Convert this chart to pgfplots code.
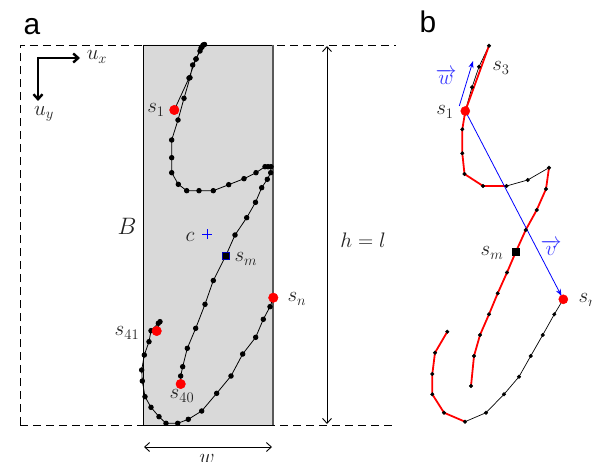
\documentclass[border=0pt]{standalone}
\usepackage{graphicx}
\usepackage{pgfplots}
\pgfplotsset{compat=1.18}
\usepackage{fontspec}
\newfontfamily\panelfont{Liberation Sans}
\usetikzlibrary{arrows.meta}
\definecolor{boxgray}{HTML}{D9D9D9}
\definecolor{vecblue}{HTML}{3A3AFF}
\definecolor{labgray}{HTML}{222222}
\newcommand{\lab}[1]{\scalebox{1.22}{\LARGE #1}}
\begin{document}
\begin{tikzpicture}
\begin{axis}[name=ax, scale only axis, width=592bp, height=462bp,
  xmin=0, xmax=592, ymin=0, ymax=462, y dir=reverse, hide axis, clip=false]
\coordinate (SW) at (axis cs:0,462);
\coordinate (NE) at (axis cs:592,0);
% ---------------- panel a ----------------
\addplot[fill=boxgray, draw=none] coordinates {(143,45) (273,45) (273,425) (143,425) (143,45)};
\addplot[black, line width=0.8pt, dash pattern=on 8bp off 5bp] coordinates {(20,425) (20,45) (396,45)};
\addplot[black, line width=0.8pt, dash pattern=on 8bp off 5bp] coordinates {(20,425) (396,425)};
\addplot[black, line width=0.8pt] coordinates {(143,425) (143,45) (273,45)};
\addplot[black, line width=0.8pt] coordinates {(143,425) (273,425)};
\addplot[black!65, line width=1.6pt] coordinates {(273,45) (273,425)};
% axes arrows
\addplot[black, line width=2.4pt, -{Straight Barb[length=5bp,width=9bp]}] coordinates {(37,58) (80,58)};
\addplot[black, line width=2.4pt, -{Straight Barb[length=5bp,width=9bp]}] coordinates {(38,57) (38,101)};
\node[text=labgray] at (axis cs:97,57) {\lab{$u_x$}};
\node[text=labgray] at (axis cs:44,114) {\lab{$u_y$}};
% h = l and w arrows
\addplot[black, line width=0.9pt, {Straight Barb[length=5bp,width=9bp]}-{Straight Barb[length=5bp,width=9bp]}] coordinates {(327,46) (327,424)};
\node[fill=white, inner sep=1pt, text=labgray] at (axis cs:363,240) {\lab{$h=l$}};
\addplot[black, line width=0.9pt, {Straight Barb[length=5bp,width=9bp]}-{Straight Barb[length=5bp,width=9bp]}] coordinates {(144,447) (272,447)};
\node[anchor=north, text=labgray] at (axis cs:207,451) {\lab{$w$}};
% trajectory
\addplot[black, line width=0.8pt, mark=*, mark size=2.3pt] coordinates {
(174.3,110) (189,78) (196,59) (201,48) (203,45) (204.5,44.5) (202,47) (200,51) (196,59) (192.7,65) (190,77.7) (184,98.3)
(178,120) (171.7,140) (171.7,157.7) (171.7,172.7) (178.3,184.3) (186.7,190.7) (199,190.7) (213.3,190.7)
(228.7,184.7) (244,178.7) (256,172.7) (265,166.7) (268,166.7) (271,166.7) (270.7,172.7) (267.3,179.3)
(261.7,187.7) (255.5,202.3) (246.7,217.7) (235,235) (225.7,256) (213.3,280.5) (205,304.3) (195.7,328.3)
(187.3,348.3) (182.7,366.7) (180.7,376) (180.7,384)};
\addplot[black, line width=0.8pt, mark=*, mark size=2.3pt] coordinates {
(156.7,331) (160,321.7) (158.3,323.3) (151,330.7) (149,341.7) (144.3,355) (141.7,370) (142.3,381)
(145,396.7) (151,407.3) (159,416.7) (166,423.3) (177.7,423.3) (188.3,419.3) (201.7,411) (216.7,393.3)
(231,376) (242.7,354) (255.7,337.3) (263.3,319.3) (270,306.7) (273.3,297.7)};
\addplot[only marks, mark=*, mark size=4.8pt, red, mark options={draw=red, fill=red}] coordinates {(174.3,110) (180.7,384) (156.7,331) (273.3,297.7)};
\addplot[only marks, mark=square*, mark size=3.6pt, mark options={draw=blue!70!black, fill=black, line width=1pt}] coordinates {(225.7,256)};
\addplot[only marks, mark=+, mark size=5pt, blue, mark options={line width=0.8pt}] coordinates {(207,234)};
\node[text=labgray] at (axis cs:156,110) {\lab{$s_1$}};
\node[anchor=west, text=labgray] at (axis cs:231,259) {\lab{$s_m$}};
\node[anchor=west, text=labgray] at (axis cs:284,299) {\lab{$s_n$}};
\node[text=labgray] at (axis cs:127,333) {\lab{$s_{41}$}};
\node[text=labgray] at (axis cs:182,396) {\lab{$s_{40}$}};
\node[text=labgray] at (axis cs:190,237) {\lab{$c$}};
\node[text=labgray] at (axis cs:127,226) {\scalebox{1.15}{\huge$B$}};
\node at (axis cs:32,27) {\panelfont\fontsize{30}{34}\selectfont a};
% ---------------- panel b ----------------
\addplot[black, line width=0.7pt] coordinates {(465.3,111) (472,87.3) (479,66.7) (489,45.7)};
\addplot[red, line width=1.8pt] coordinates {(489,45.7) (465.3,111)};
\addplot[red, line width=1.8pt] coordinates {(465.3,111) (462.3,129.3) (462.3,153.3) (464.5,174) (483,186) (506.5,186)};
\addplot[black, line width=0.7pt] coordinates {(506.5,186) (527.7,180) (549,167.7)};
\addplot[red, line width=1.8pt] coordinates {(549,167.7) (546,189) (536.7,210) (525.7,230) (516,251.5) (507,272.5) (497.7,293.3) (489,314.3) (480,335) (474,356) (471,386)};
\addplot[red, line width=1.8pt] coordinates {(447.3,331.7) (435,352.7) (432.3,374) (432.3,394.3) (444,412.7) (465,421.7)};
\addplot[black, line width=0.7pt] coordinates {(465,421.7) (486,412.7) (504,394.3) (519,376.7) (530.7,356) (542.7,335) (554.3,314.3) (563.3,299.3)};
\addplot[only marks, mark=*, mark size=1.8pt, black] coordinates {
(489,45.7) (479,66.7) (472,87.3) (462.3,129.3) (462.3,153.3) (464.5,174) (483,186) (506.5,186) (527.7,180) (549,167.7)
(546,189) (536.7,210) (525.7,230) (507,272.5) (497.7,293.3) (489,314.3) (480,335) (474,356) (471,386)
(447.3,331.7) (435,352.7) (432.3,374) (432.3,394.3) (444,412.7) (465,421.7) (486,412.7) (504,394.3) (519,376.7)
(530.7,356) (542.7,335) (554.3,314.3)};
\addplot[blue, line width=0.8pt, -{Stealth[length=7bp,width=5bp]}] coordinates {(465.3,111) (561.5,296)};
\addplot[blue, line width=0.8pt, -{Stealth[length=7bp,width=5bp]}] coordinates {(459.3,106) (473,61)};
\addplot[only marks, mark=*, mark size=4.6pt, red] coordinates {(465.3,111) (563.3,299.3)};
\addplot[only marks, mark=square*, mark size=3.4pt, black] coordinates {(516,251.5)};
\node[text=labgray] at (axis cs:445,112) {\lab{$s_1$}};
\node[text=labgray] at (axis cs:501,68) {\lab{$s_3$}};
\node[text=labgray] at (axis cs:492,253) {\lab{$s_m$}};
\node[anchor=west, text=labgray] at (axis cs:575,300) {\lab{$s_n$}};
\node at (axis cs:446,77) {\lab{\color{vecblue}$\overrightarrow{w}$}};
\node at (axis cs:551,248) {\lab{\color{vecblue}$\overrightarrow{v}$}};
\node at (axis cs:428,22) {\panelfont\fontsize{30}{34}\selectfont b};
\end{axis}
\pgfresetboundingbox
\useasboundingbox (SW) rectangle (NE);
\end{tikzpicture}
\end{document}
